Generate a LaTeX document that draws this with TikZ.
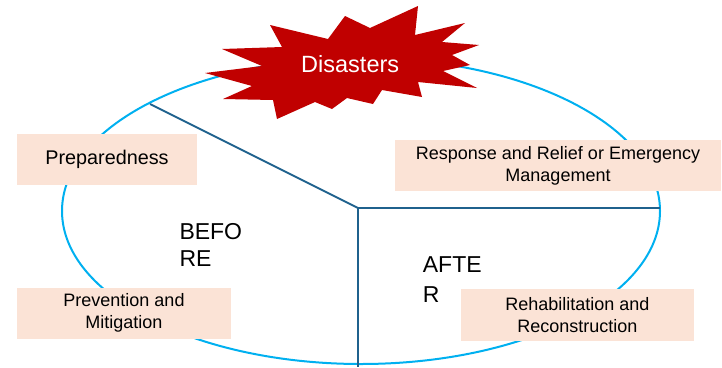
\documentclass[tikz,border=0pt]{standalone}
\usepackage{fontspec}
\setmainfont{Liberation Sans}
\definecolor{ringblue}{RGB}{0,176,240}
\definecolor{divline}{RGB}{31,97,141}
\definecolor{peach}{RGB}{251,227,214}
\definecolor{burstred}{RGB}{192,0,0}
\begin{document}
\begin{tikzpicture}[x=1pt,y=-1pt,
  phasebox/.style={fill=peach,draw=none,inner sep=0pt,align=center,
    font=\fontsize{18}{22}\selectfont},
  divider/.style={draw=divline,line width=1.8pt},
  bigword/.style={inner sep=0pt,anchor=north west,align=left}]
\useasboundingbox (0,0) rectangle (722,367);
% ring
\draw[ringblue,line width=2pt] (361,211) ellipse [x radius=299,y radius=153];
% dividers
\coordinate (ul) at (150,104);
\coordinate (hub) at (358,208);
\coordinate (re) at (660,208);
\coordinate (bt) at (358,367);
\draw[divider] (ul) -- (hub) -- (re);
\draw[divider] (hub) -- (bt);
% starburst
\fill[burstred] (205,73) -- (262,66) -- (222,49) -- (282,47) -- (270,25) -- (328,39)
  -- (345,16) -- (370,28) -- (418,6) -- (415,35) -- (465,23) -- (442,42)
  -- (479,45) -- (452,55) -- (470,65) -- (443,71) -- (477,88) -- (418,82)
  -- (422,97) -- (382,90) -- (373,104) -- (347,98) -- (332,109) -- (315,102)
  -- (277,119) -- (273,100) -- (223,99) -- (252,86) -- cycle;
\node[inner sep=0pt,text=white,font=\fontsize{23.5}{27}\selectfont] (dis) at (350.2,64.5) {Disasters};
% boxes
\node[phasebox,minimum width=179.4pt,minimum height=51pt,font=\fontsize{19.8}{23}\selectfont] (prep) at (107,159.8) {Preparedness};
\node[phasebox,minimum width=326pt,minimum height=51pt] (resp) at (558,165.5) {Response and Relief or Emergency\\Management};
\node[phasebox,minimum width=213.4pt,minimum height=51.3pt] (prev) at (124,313.3) {Prevention and\\Mitigation};
\node[phasebox,minimum width=233.3pt,minimum height=51.4pt] (rehab) at (577.3,315) {Rehabilitation and\\Reconstruction};
% phase labels
\node[bigword,font=\fontsize{23}{27}\selectfont] (before) at (179.3,223.3) {BEFO\\RE};
\node[bigword,font=\fontsize{23}{29.5}\selectfont] (after) at (422.7,256.7) {AFTE\\R};
\end{tikzpicture}
\end{document}
